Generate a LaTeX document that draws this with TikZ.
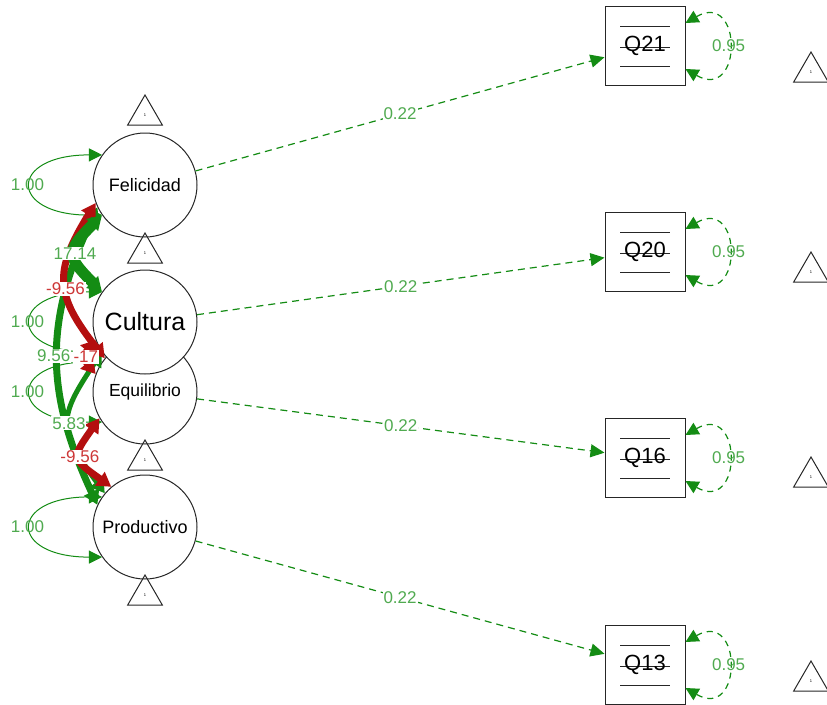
\documentclass[tikz,border=0pt]{standalone}
\usepackage{fontspec}
\setmainfont{Liberation Sans}
\usetikzlibrary{shapes.geometric,arrows.meta}

\definecolor{semgreen}{RGB}{20,140,20}
\definecolor{labgreen}{RGB}{80,170,80}
\definecolor{semred}{RGB}{180,15,15}
\definecolor{labred}{RGB}{205,55,55}
\newcommand{\fsz}[1]{\fontsize{#1}{#1}\selectfont}

\begin{document}
\begin{tikzpicture}[x=1pt, y=1pt,
    latent/.style={circle, draw=black!85, fill=white, line width=1pt, minimum size=104pt, inner sep=0pt},
    manifest/.style={rectangle, draw=black!85, fill=white, line width=1pt, minimum width=80pt, minimum height=79pt, inner sep=0pt, font=\fsz{22},
        path picture={
            \draw[black!85, line width=1pt] ([xshift=-25pt, yshift=20pt]path picture bounding box.center) -- ++(50pt, 0pt);
            \draw[black!85, line width=1pt] ([xshift=-25pt, yshift=-1pt]path picture bounding box.center) -- ++(50pt, 0pt);
            \draw[black!85, line width=1pt] ([xshift=-25pt, yshift=-20pt]path picture bounding box.center) -- ++(50pt, 0pt);}},
    icpt/.style={regular polygon, regular polygon sides=3, draw=black!85, line width=1pt, minimum size=40pt, inner sep=0pt, font=\fsz{4}},
    load/.style={semgreen, line width=1.2pt, dash pattern=on 7pt off 5pt, -{Triangle[length=14pt, width=13pt]}},
    resid/.style={semgreen, line width=1.2pt, dash pattern=on 6pt off 5pt, {Triangle[length=13pt, width=13pt]}-{Triangle[length=13pt, width=13pt]}},
    var/.style={semgreen, line width=1pt, {Triangle[length=13pt, width=13pt]}-{Triangle[length=13pt, width=13pt]}},
    cov/.style={line width=#1, {Triangle[length=14pt, width=16pt]}-{Triangle[length=14pt, width=16pt]}},
    glab/.style={font=\fsz{17}, text=labgreen, inner sep=1pt},
    rlab/.style={font=\fsz{17}, text=labred, inner sep=1pt, fill=white},
]
    \useasboundingbox (0, 0) rectangle (827, -704);

    \node [latent, font=\fsz{18}] (fel) at (145, -185) {Felicidad};
    \node [latent, font=\fsz{18}] (prod) at (145, -527) {Productivo};
    \node [latent, font=\fsz{17.5}] (equ) at (145, -392) {Equilibrio};
    \node [latent, font=\fsz{25}] (cul) at (145, -322) {Cultura};

    \node [icpt] (felI) at (145, -115) {1};
    \node [icpt] (culI) at (145, -253) {1};
    \node [icpt] (equI) at (145, -460) {1};
    \node [icpt] (prodI) at (145, -595) {1};

    \node [manifest] (q21) at (645, -46) {Q21};
    \node [manifest] (q20) at (645, -252) {Q20};
    \node [manifest] (q16) at (645, -458) {Q16};
    \node [manifest] (q13) at (645, -665) {Q13};

    \node [icpt] (q21I) at (811, -72) {1};
    \node [icpt] (q20I) at (811, -272) {1};
    \node [icpt] (q16I) at (811, -477) {1};
    \node [icpt] (q13I) at (811, -681) {1};

    \draw [load] (fel) -- node [glab, fill=white] (l21) {0.22} (q21);
    \draw [load] (cul) -- node [glab, fill=white] (l20) {0.22} (q20);
    \draw [load] (equ) -- node [glab, fill=white] (l16) {0.22} (q16);
    \draw [load] (prod) -- node [glab, fill=white] (l13) {0.22} (q13);

    \draw [resid] ([yshift=23pt]q21.east) to[out=30, in=-30, looseness=3.7] node [glab] (r21) {0.95} ([yshift=-23pt]q21.east);
    \draw [resid] ([yshift=23pt]q20.east) to[out=30, in=-30, looseness=3.7] node [glab] (r20) {0.95} ([yshift=-23pt]q20.east);
    \draw [resid] ([yshift=23pt]q16.east) to[out=30, in=-30, looseness=3.7] node [glab] (r16) {0.95} ([yshift=-23pt]q16.east);
    \draw [resid] ([yshift=23pt]q13.east) to[out=30, in=-30, looseness=3.7] node [glab] (r13) {0.95} ([yshift=-23pt]q13.east);

    \draw [var] (fel.145) to[out=180, in=180, looseness=4] node [glab, xshift=-4pt] (vfel) {1.00} (fel.215);
    \draw [var] (cul.145) to[out=180, in=180, looseness=4] node [glab, xshift=-4pt] (vcul) {1.00} (cul.215);
    \draw [var] (equ.145) to[out=180, in=180, looseness=4] node [glab, xshift=-4pt] (vequ) {1.00} (equ.215);
    \draw [var] (prod.145) to[out=180, in=180, looseness=4] node [glab, xshift=-4pt] (vprod) {1.00} (prod.215);

    \draw [cov=7pt, semgreen] (fel.205) to[bend right=25, looseness=1.08] coordinate [midway] (mFP) (prod.155);
    \draw [cov=5pt, semgreen] (cul.215) to[bend right=35, looseness=1.45] coordinate [midway] (mCP) (prod.140);
    \draw [cov=7pt, semred] (fel.200) to[bend right=35, looseness=1.33] coordinate [midway] (mFE) (equ.140);
    \draw [cov=7pt, semred] (equ.210) to[bend right=45, looseness=1.8] coordinate [midway] (mEP) (prod.130);
    \draw [cov=11pt, semgreen] (fel.215) to[bend right=45, looseness=1.7] coordinate [midway] (mFC) (cul.145);
    \draw [cov=6pt, semred] (cul.200) to[bend right=40, looseness=2] coordinate [midway] (mCE) (equ.160);

    \node [glab, fill=white, xshift=-4pt] (cFP) at (mFP) {9.56};
    \node [glab, fill=white] (cCP) at (mCP) {5.83};
    \node [rlab, yshift=-6pt] (cFE) at (mFE) {-9.56};
    \node [rlab] (cEP) at (mEP) {-9.56};
    \node [glab, fill=white] (cFC) at (mFC) {17.14};
    \node [rlab, xshift=3pt] (cCE) at (mCE) {-17};

\end{tikzpicture}
\end{document}
